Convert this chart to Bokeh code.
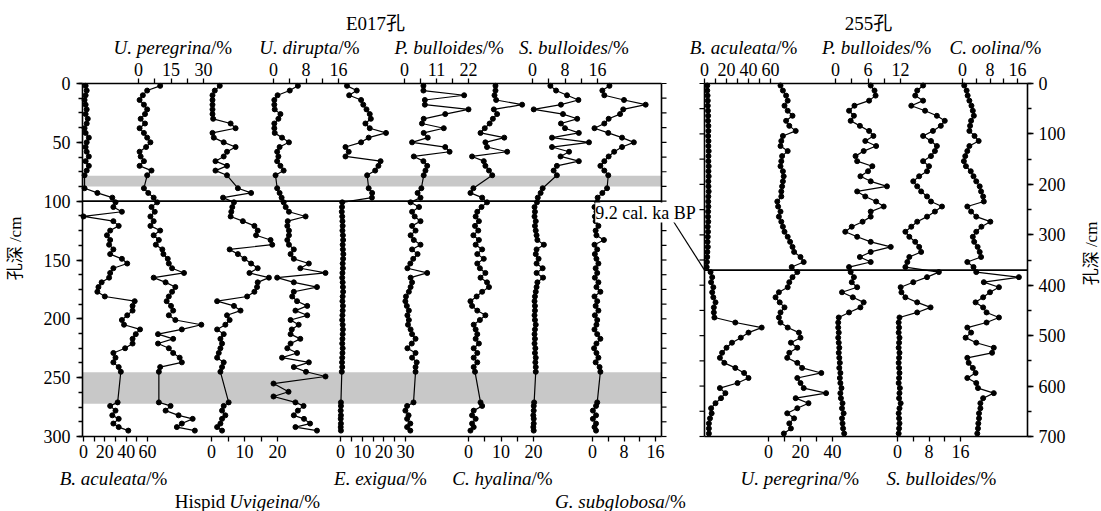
import numpy as np
from bokeh.plotting import figure
from bokeh.models import Range1d, LinearAxis, FixedTicker, SingleIntervalTicker, Label, ColumnDataSource
from bokeh.core.properties import value
from bokeh.embed import file_html
from bokeh.resources import INLINE

# ---------------- data : core E017 (depth in cm, abundance in %) ----------------
E017_depth = [2, 6, 10, 14, 18, 22, 26, 30, 34, 38, 42, 46, 50, 54, 58, 62, 66, 70, 74, 78,
              89, 93, 97,
              101, 105, 109, 113, 117, 121, 125, 129, 133, 137, 141, 145, 149, 153, 157, 161, 165, 169,
              173, 177, 181, 185, 189, 193, 197, 201, 205, 209, 213, 217, 221, 225, 229, 233, 237, 241, 245,
              271, 274, 278, 282, 285, 289, 292, 295]
UDIR_depth = [2, 6, 10, 14, 18, 22, 26, 30, 34, 38, 42, 46, 50, 54, 58, 62, 66, 70, 74, 78,
              89, 93, 97,
              101, 105, 109, 113, 117, 121, 125, 129, 133, 137, 141, 145, 149, 153, 157, 161, 165, 169,
              173, 177, 181, 185, 189, 193, 197, 201, 205, 209, 213, 217, 221, 225, 229, 233, 237, 241, 245,
              249, 255, 262, 266,
              271, 274, 278, 282, 285, 289, 292, 295]

b_aculeata_E = [2, 3, 2, 1, 2, 3, 2, 4, 3, 1, 2, 5, 3, 2, 3, 5, 2, 5, 3, 1,
                1, 13, 27,
                30, 28, 36, 0, 28, 33, 25, 22, 25, 24, 28, 25, 36, 41, 28, 25, 24, 17, 14, 13,
                20, 48, 46, 46, 41, 36, 38, 53, 49, 46, 46, 39, 28, 30, 28, 33, 35,
                32, 25, 30, 27, 33, 28, 33, 42]
u_peregrina_E = [10, 4, 2, 0.5, 2.5, 4, 3, 1, 3, 0.5, 2.5, 4, 5.5, 3.5, 0.5, 1, 2.5, 0.5, 6, 4,
                 2.5, 4.5, 7,
                 8.6, 6, 7.5, 5.5, 7, 5.5, 10, 7, 9.4, 8, 11, 11.5, 13.5, 14, 15.5, 21, 7, 12.5, 17, 15.5,
                 14, 13, 15, 16, 14, 17, 29, 20, 9, 16, 9, 14, 16, 19, 20, 10, 9.4,
                 9.4, 14.8, 12.5, 18.5, 25, 20, 17.7, 26]
hispid_uvig_E = [2.5, 1, 0.3, 0.3, 0.3, 0.3, 0.3, 0.5, 5.8, 7.3, 0.3, 0.7, 3.7, 7.3, 4.7, 3.7, 1.2, 4.7, 1.2, 4.7,
                 8, 12, 3.5,
                 6.8, 6.3, 6, 5.8, 9.5, 13, 14, 13.5, 17.9, 18.4, 5.5, 8, 10, 12, 14, 11.5, 17.4, 14, 13.8, 13,
                 10.8, 1.7, 6.8, 8.8, 4.7, 5.5, 4.2, 1.7, 3.7, 2.7, 3.2, 2.7, 2.2, 1.7, 3.7, 3.2, 2.7,
                 5.2, 3.7, 3.2, 4.2, 3.2, 2.7, 1.7, 3.2]
u_dirupta_E = [6, 4, 1, 0.2, 0.2, 0.3, 1.7, 1.2, 0.2, 0.2, 0.3, 2.1, 3.8, 1.5, 0.9, 1.2, 0.9, 1.7, 2.5, 0.5,
               0.9, 1.5, 2,
               2.5, 3, 3.8, 7.9, 3.5, 3.4, 3.8, 3.8, 3.4, 3.8, 5, 4.2, 5, 8.7, 6.6, 12.8, 0.9, 5, 10.7, 5,
               4.6, 5.8, 8.3, 5.4, 8.3, 4.2, 6.2, 4.5, 4.2, 6.6, 4.2, 3.4, 5.8, 2.1, 8.7, 5, 8,
               12.8, 0, 3.7, 0,
               5.4, 7.4, 6, 5, 7.5, 9, 5.4, 10.7]
e_exigua_E = [3, 7.5, 4, 9.5, 10.5, 12, 13.5, 14, 11.5, 13.5, 21, 13, 9.5, 2.3, 3.8, 2.3, 18.5, 17.5, 16, 12.3,
              13, 14.6, 14.5,
              0.8, 0.7, 0.6, 0.8, 0.9, 1.0, 0.9, 1.1, 1.2, 1.0, 1.1, 1.3, 1.2, 1.0, 1.1, 0.9, 0.8, 1.0, 1.1, 1.2,
              1.0, 0.9, 1.1, 1.0, 0.9, 0.8, 1.0, 1.1, 1.0, 0.9, 0.8, 1.0, 0.9, 0.8, 0.7, 0.8, 0.6,
              0.2, 0.2, 0.1, 0.2, 0.1, 0.2, 0.1, 0.2]
p_bulloides_E = [6.5, 6.5, 20.5, 7, 7, 22, 14, 6.6, 6, 13.5, 6.6, 8, 2.6, 14, 15.5, 3.2, 6.5, 7.8, 7.2, 6.6,
                 5.8, 4.5, 5.5,
                 2.1, 5, 2.6, 3.5, 5.5, 2.6, 3.8, 2.1, 3.2, 5.5, 2.6, 4.5, 3, 2, 1, 7.8, 2.1, 2.6, 2.1, 1.5,
                 0.5, 0.3, 0.8, 1.5, 1, 1.5, 1.2, 2.1, 2.6, 3.8, 2.5, 1, 3.8, 2.6, 4.2, 3.8, 3.8,
                 3.1, 0.9, 0.3, 1.4, 0.9, 2, 0.9, 2]
c_hyalina_E = [8.3, 8.3, 8, 8.5, 16.5, 7.8, 8.8, 7.5, 6.5, 5, 3.7, 11, 5.2, 5.7, 11.9, 1.1, 4.7, 5.2, 6.3, 7.3,
               1.5, 0.6, 4.2,
               5.7, 4, 2.7, 2.2, 3.2, 2, 3, 1.5, 3.2, 2.2, 4.2, 2.7, 4.7, 2.7, 3.5, 5.2, 3.7, 5.7, 6.3, 4.2,
               2.5, 0.6, 1.1, 2.7, 5.2, 3.5, 1.6, 2.2, 2.7, 2.2, 3.2, 1.6, 2.7, 1.6, 2.7, 1.6, 2,
               3.7, 4.2, 1.6, 1.1, 2.2, 1.1, 1.6, 0.6]
s_bulloides_E = [4.4, 5.8, 8.5, 11.3, 7, 0.3, 7.5, 11, 7, 8, 11.4, 4.8, 13.9, 4.8, 9, 6.9, 11.4, 6, 5.2, 6,
                 2.5, 2, 1.3,
                 1.1, 0.5, 0.6, 0.5, 0.8, 0.6, 0.8, 1.0, 1.2, 2.8, 1.0, 0.8, 1.5, 1.0, 2.5, 1.0, 2.6, 1.2, 1.0, 0.8,
                 0.6, 0.5, 0.6, 0.6, 0.5, 0.6, 0.8, 0.6, 0.5, 0.6, 0.5, 0.7, 0.6, 0.8, 0.7, 0.8, 0.8,
                 0.4, 0.3, 0.3, 0.2, 0.3, 0.3, 0.2, 0.3]
g_subglobosa_E = [4.3, 2.5, 3, 8, 13.5, 7.8, 7, 4.1, 3, 0.5, 4, 7.5, 10.5, 7.5, 5.5, 4.1, 3, 2, 3, 4,
                  3.7, 2.5, 1.3,
                  1.2, 0.5, 1.0, 0.6, 0.8, 1.5, 0.8, 1.0, 2.9, 0.5, 1.2, 0.6, 1.0, 1.5, 0.8, 1.2, 0.6, 1.5, 1.0, 2.0,
                  0.5, 1.2, 0.8, 1.5, 0.6, 1.2, 1.0, 0.5, 1.2, 2.0, 1.0, 0.4, 1.0, 1.5, 0.8, 1.8, 2.0,
                  1.2, 0.9, 0.1, 0.9, 0.1, 0.9, 0.5, 0.9]

# ---------------- data : core 255 ----------------
D255_depth = [4, 14, 24, 34, 44, 54, 64, 74, 84, 94, 104, 114, 124, 134, 144, 154, 164, 174, 184, 194,
              204, 214, 224, 234, 244, 254, 264, 274, 284, 294, 304, 314, 324, 334, 344, 354, 364,
              374, 384, 394, 404, 414, 424, 434, 444, 454, 464, 474, 484, 494, 504, 514, 524, 534, 544,
              554, 564, 574, 584, 594, 604, 614, 624, 634, 644, 654, 664, 674, 684, 694]
b_aculeata_255 = [2.5, 2.5, 2.8, 3, 3, 3.2, 3.3, 3.2, 3.5, 3.5, 3.3, 3.6, 3.5, 3.8, 3.6, 3.5, 3.8, 3.6, 3.8, 3.5,
                  3.6, 3.8, 3.5, 3.4, 3.5, 3.3, 3.2, 3.4, 3, 3.2, 3, 2.8, 3, 2.6, 2.5, 2.2, 2,
                  5.5, 7, 6, 8, 7, 8, 10, 8.5, 8.5, 9, 28, 52, 40, 33, 25, 20, 16, 14, 18, 28,
                  36, 40, 30, 14, 19, 15, 10, 6, 6.5, 5, 4, 4, 4]
u_peregrina_255 = [7.5, 9, 11, 12, 10, 12, 15, 11, 13, 17, 9, 8, 7.5, 12, 8.5, 8, 7.5, 9, 9.5, 9,
                   8.5, 8, 8, 5.5, 6, 7.5, 6.5, 8, 9, 10, 12, 13.5, 15, 16, 20, 22, 14.5,
                   18, 15, 13, 12, 6.5, 4.4, 7, 10, 7.5, 6.5, 7.5, 12, 19, 20, 14, 18, 13, 11.7, 18, 21,
                   33, 18, 20, 22, 36, 17, 25, 18, 11.7, 16, 13, 14, 9.6]
p_bulloides_255 = [6.5, 7.2, 7.4, 6.2, 3.5, 2.5, 3.4, 2.8, 4.5, 6.2, 7, 5.5, 7.5, 5.2, 3.7, 4, 6.8, 6, 4.6, 6.5,
                   9.5, 4, 5.5, 7.5, 8.9, 6.5, 6.5, 5, 3, 1.8, 4, 6.5, 10.2, 6.5, 4.5, 6.5, 2.5,
                   2.8, 3.4, 3, 4, 1.2, 3.2, 5.2, 4.6, 2.5, 0.6, 0.5, 0.5, 0.6, 0.5, 0.6, 0.7, 0.6, 0.7, 0.8, 0.7,
                   0.9, 0.8, 0.9, 1.1, 0.9, 1.0, 1.3, 1.2, 1.5, 1.2, 1.3, 1.4, 1.6]
s_bulloides_255 = [6.5, 5, 4.5, 6.5, 3.5, 7, 10, 12, 11, 9, 6.5, 8.5, 10, 9.5, 8.5, 6.5, 8, 7.5, 5.5, 4,
                   5, 6, 7.5, 8.5, 11.3, 9.5, 7.5, 5, 3.5, 2, 3, 4.5, 5.5, 6, 3, 2.5, 2,
                   10.5, 7.5, 4, 0.8, 1, 2, 5, 8.4, 5, 0.5, 0.3, 0.4, 0.3, 0.5, 0.4, 0.3, 0.5, 0.4, 0.3, 0.4,
                   0.5, 0.4, 0.3, 0.6, 0.5, 0.4, 0.8, 0.5, 0.3, 0.4, 0.5, 0.4, 0.3]
c_oolina_255 = [0.5, 1.2, 1.5, 2, 2.6, 3, 3.3, 2.5, 2.2, 2, 3.5, 4.7, 2, 1.4, 0.8, 0.4, 1, 2.4, 3.2, 4,
                5, 5.4, 6, 6.2, 1.4, 2.5, 4, 8.1, 5.5, 4, 3, 3.4, 4.4, 5, 5.4, 1.4, 3.2,
                4, 16.4, 6.2, 10.6, 8, 6, 3.8, 6, 7, 10.6, 7, 1.4, 2.5, 0.9, 4, 9.1, 8.6, 1.4, 1.8, 3,
                3.8, 1.4, 4, 4.5, 9.1, 6, 5.2, 5.2, 4.8, 4.8, 4.6, 4.5, 4.3]

E017_event_depth = 100
D255_event_depth = 370
E017_bands = [(78.3, 87.5), (245.3, 272.2)]

# ---------------- layout ----------------
W, H = 1101, 511
TOP_PX, BOT_PX = 83, 436
L_LEFT, L_RIGHT = 82, 661
R_LEFT, R_RIGHT = 704, 1027
E_MAX, R_MAX = 300, 700
ke = (BOT_PX - TOP_PX) / E_MAX
kr = (BOT_PX - TOP_PX) / R_MAX
SERIF = "Liberation Serif, Noto Sans CJK SC"
TICK_FS = "18px"
TITLE_FS = 19

p = figure(width=W, height=H, x_range=Range1d(0, W),
           y_range=Range1d(E_MAX + (H - BOT_PX) / ke, -TOP_PX / ke),
           x_axis_type=None, y_axis_type=None, toolbar_location=None,
           output_backend="svg", min_border=0, outline_line_color=None,
           background_fill_color="white", border_fill_color="white")
p.extra_y_ranges = {"r": Range1d(R_MAX + (H - BOT_PX) / kr, -TOP_PX / kr),
                    "py": Range1d(H, 0)}

# series: name, depth, values, core, zero px, px per unit, ticks, minor ticks, axis side
SERIES = [
    ("bac_e", E017_depth, b_aculeata_E, "E", 83, 64 / 60, [0, 20, 40, 60], [10, 30, 50], "below"),
    ("upe_e", E017_depth, u_peregrina_E, "E", 138, 65 / 30, [0, 15, 30], [7.5, 22.5], "above"),
    ("hu_e", E017_depth, hispid_uvig_E, "E", 211, 66 / 20, [0, 10, 20], [5, 15], "below"),
    ("ud_e", UDIR_depth, u_dirupta_E, "E", 273, 65 / 16, [0, 8, 16], [4, 12], "above"),
    ("ee_e", E017_depth, e_exigua_E, "E", 340, 65 / 30, [0, 10, 20, 30], [5, 15, 25], "below"),
    ("pb_e", E017_depth, p_bulloides_E, "E", 404, 64 / 22, [0, 11, 22], [5.5, 16.5], "above"),
    ("ch_e", E017_depth, c_hyalina_E, "E", 468, 65 / 20, [0, 10, 20], [5, 15], "below"),
    ("sb_e", E017_depth, s_bulloides_E, "E", 532, 65 / 16, [0, 8, 16], [4, 12], "above"),
    ("gs_e", E017_depth, g_subglobosa_E, "E", 592, 63 / 16, [0, 8, 16], [4, 12], "below"),
    ("bac_r", D255_depth, b_aculeata_255, "R", 704, 66 / 60, [0, 20, 40, 60], [10, 30, 50], "above"),
    ("upe_r", D255_depth, u_peregrina_255, "R", 768, 64 / 40, [0, 20, 40], [10, 30], "below"),
    ("pb_r", D255_depth, p_bulloides_255, "R", 835, 65 / 12, [0, 6, 12], [3, 9], "above"),
    ("sb_r", D255_depth, s_bulloides_255, "R", 897, 63 / 16, [0, 8, 16], [4, 12], "below"),
    ("co_r", D255_depth, c_oolina_255, "R", 962, 55 / 16, [0, 8, 16], [4, 12], "above"),
]

# grey bands
for top, bot in E017_bands:
    p.quad(left=L_LEFT, right=L_RIGHT, top=top, bottom=bot, fill_color="#c8c8c8", line_color=None)

for name, dep, vals, core, zero, k, ticks, minor, side in SERIES:
    p.extra_x_ranges[name] = Range1d(-zero / k, (W - zero) / k)
    yr = "default" if core == "E" else "r"
    src = ColumnDataSource(dict(v=vals, d=dep))
    p.line("v", "d", source=src, x_range_name=name, y_range_name=yr, line_color="black", line_width=1.2)
    p.scatter("v", "d", source=src, x_range_name=name, y_range_name=yr, size=5, color="black")
    loc = 0 if side == "above" else (E_MAX if core == "E" else R_MAX)
    ax = LinearAxis(x_range_name=name, y_range_name=yr, fixed_location=loc,
                    ticker=FixedTicker(ticks=ticks, minor_ticks=minor), bounds=(ticks[0], ticks[-1]))
    ax.axis_line_color = None
    ax.major_tick_out, ax.major_tick_in, ax.minor_tick_out, ax.minor_tick_in = 5, 0, 5, 0
    ax.major_tick_line_width = 1.3
    ax.minor_tick_line_width = 1.3
    ax.major_label_text_font = SERIF
    ax.major_label_text_font_size = TICK_FS
    ax.major_label_text_color = "black"
    ax.major_label_standoff = 3
    p.add_layout(ax, side)

# depth axes
axl = LinearAxis(fixed_location=L_LEFT, ticker=SingleIntervalTicker(interval=50, num_minor_ticks=4),
                 bounds=(0, E_MAX))
axr = LinearAxis(y_range_name="r", fixed_location=R_RIGHT,
                 ticker=SingleIntervalTicker(interval=100, num_minor_ticks=2), bounds=(0, R_MAX))
for ax in (axl, axr):
    ax.axis_line_width = 1.6
    ax.major_tick_out, ax.major_tick_in, ax.minor_tick_out, ax.minor_tick_in = 6, 0, 4, 0
    ax.major_tick_line_width = 1.3
    ax.minor_tick_line_width = 1.3
    ax.major_label_text_font = SERIF
    ax.major_label_text_font_size = TICK_FS
    ax.major_label_text_color = "black"
axl.major_label_standoff = 6
axr.major_label_standoff = 5
p.add_layout(axl, "left")
p.add_layout(axr, "right")

# panel frames and event lines
p.segment(x0=[L_LEFT, L_LEFT, L_RIGHT], y0=[0, E_MAX, 0], x1=[L_RIGHT, L_RIGHT, L_RIGHT], y1=[0, E_MAX, E_MAX],
          line_color="black", line_width=1.6)
p.segment(x0=[L_LEFT], y0=[E017_event_depth], x1=[L_RIGHT], y1=[E017_event_depth],
          line_color="black", line_width=1.8)
p.segment(x0=[R_LEFT, R_LEFT, R_LEFT], y0=[0, R_MAX, 0], x1=[R_RIGHT, R_RIGHT, R_LEFT], y1=[0, R_MAX, R_MAX],
          y_range_name="r", line_color="black", line_width=1.6)
p.segment(x0=[R_LEFT], y0=[D255_event_depth], x1=[R_RIGHT], y1=[D255_event_depth],
          y_range_name="r", line_color="black", line_width=1.8)
et = np.arange(0, E_MAX + 0.1, 12.5)
p.segment(x0=L_RIGHT, x1=L_RIGHT + 5, y0=et, y1=et, line_color="black", line_width=1.2)
rt = np.arange(0, R_MAX + 0.1, 50)
p.segment(x0=R_LEFT - 5, x1=R_LEFT, y0=rt, y1=rt, y_range_name="r", line_color="black", line_width=1.2)

# connector and age label
p.line(x=[673, R_LEFT], y=[221, TOP_PX + D255_event_depth * kr], y_range_name="py",
       line_color="black", line_width=1.2)
p.add_layout(Label(x=645, y=212, y_range_name="py", text="9.2 cal. ka BP", text_align="center",
                   text_baseline="middle", text_font=SERIF, text_font_size="18px", text_color="black",
                   background_fill_color="white"))

# headers and vertical labels
p.text(x=[375, 868], y=[23, 23], text=["E017孔", "255孔"], y_range_name="py", text_align="center",
       text_baseline="alphabetic", text_font=value(SERIF), text_font_size="19px", text_color="black")
p.text(x=[15, 1091], y=[248, 253], text=["孔深 /cm", "孔深 /cm"], y_range_name="py", angle=np.pi / 2,
       text_align="center", text_baseline="middle", text_font=value(SERIF), text_font_size="17px",
       text_color="black")

# species titles: italic name (right-aligned) + upright "/%" (left-aligned) joined at one point
IT = {'U': 722, 'B': 611, 'P': 611, 'S': 500, 'E': 611, 'C': 667, 'G': 722, '.': 250, ' ': 250, 'a': 500,
      'b': 500, 'c': 444, 'd': 500, 'e': 444, 'g': 500, 'h': 500, 'i': 278, 'l': 278, 'n': 500, 'o': 500,
      'p': 500, 'r': 389, 's': 389, 't': 278, 'u': 500, 'v': 444, 'x': 444, 'y': 444, 'k': 444}
RG = {'H': 722, 'i': 278, 's': 389, 'p': 500, 'd': 500, ' ': 250, '/': 278, '%': 833}

TITLES = [
    ("", "U. peregrina", 172, 47),
    ("", "U. dirupta", 309, 47),
    ("", "P. bulloides", 447.5, 47),
    ("", "S. bulloides", 573.5, 47),
    ("", "B. aculeata", 743, 47),
    ("", "P. bulloides", 875, 47),
    ("", "C. oolina", 995, 47),
    ("", "B. aculeata", 113, 478),
    ("", "E. exigua", 380, 478),
    ("", "C. hyalina", 502, 478),
    ("Hispid ", "Uvigeina", 246.5, 501),
    ("", "G. subglobosa", 620, 501),
    ("", "U. peregrina", 799, 478),
    ("", "S. bulloides", 941, 478),
]

def tw(s, tab):
    return sum(tab.get(c, 500) for c in s) * TITLE_FS / 1000.0

ital = dict(x=[], y=[], t=[])
pref = dict(x=[], y=[], t=[])
suff = dict(x=[], y=[], t=[])
for pre, name, cx, by in TITLES:
    total = tw(pre, RG) + tw(name, IT) + tw("/%", RG)
    x0 = cx - total / 2
    xs = x0 + tw(pre, RG)
    xj = xs + tw(name, IT)
    ital["x"].append(xj); ital["y"].append(by); ital["t"].append(name)
    suff["x"].append(xj); suff["y"].append(by); suff["t"].append("/%")
    if pre:
        pref["x"].append(xs); pref["y"].append(by); pref["t"].append(pre.strip())

common = dict(y_range_name="py", text_baseline="alphabetic", text_font=value(SERIF),
              text_font_size=f"{TITLE_FS}px", text_color="black")
p.text("x", "y", text="t", source=ColumnDataSource(ital), text_align="right", text_font_style="italic", **common)
p.text("x", "y", text="t", source=ColumnDataSource(suff), text_align="left", text_font_style="normal", **common)
p.text("x", "y", text="t", source=ColumnDataSource(pref), text_align="right", text_font_style="normal",
       x_offset=-4, **common)

open("out.html", "w").write(file_html(p, INLINE))
